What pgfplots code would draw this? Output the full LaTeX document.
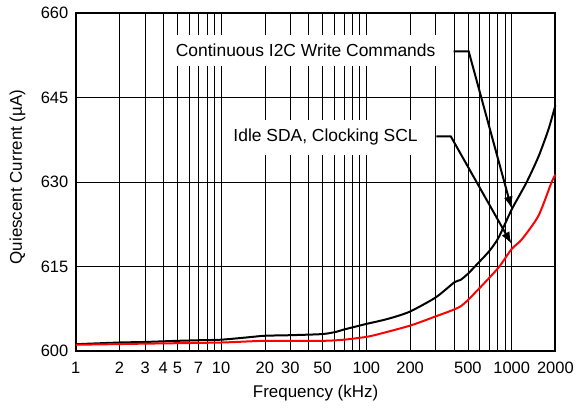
\documentclass[border=0pt]{standalone}
\usepackage{fontspec}
\setmainfont{Liberation Sans}
\usepackage{pgfplots}
\pgfplotsset{compat=1.18}
\usetikzlibrary{arrows.meta}
\begin{document}
\begin{tikzpicture}
\begin{axis}[
  scale only axis,
  width=481pt, height=339pt,
  xmode=log, log basis x=10,
  xmin=1, xmax=2000, ymin=600, ymax=660,
  xtick={1,2,3,4,5,7,10,20,30,50,100,200,500,1000,2000},
  xticklabels={1,2,3,4,5,7,10,20,30,50,100,200,500,1000,2000},
  minor xtick={6,8,9,40,60,70,80,90,300,400,600,700,800,900},
  ytick={600,615,630,645,660},
  grid=both,
  major grid style={black, line width=0.6pt},
  minor grid style={black, line width=0.6pt},
  major tick length=0pt, minor tick length=0pt,
  axis line style={black, line width=2pt},
  /pgf/number format/assume math mode=true,
  xticklabel style={font=\fontsize{16.5}{19}\selectfont, yshift=-8pt},
  yticklabel style={font=\fontsize{16.5}{19}\selectfont, xshift=-4pt},
  xlabel={Frequency (kHz)},
  ylabel={Quiescent Current (µA)},
  xlabel style={font=\fontsize{17}{20}\selectfont, at={(axis description cs:0.5,-0.1254)}, anchor=center},
  ylabel style={font=\fontsize{17}{20}\selectfont, at={(axis description cs:-0.1216,0.5147)}, anchor=center},
  clip=false,
]
\coordinate (SW) at (rel axis cs:0,0);
\coordinate (NE) at (rel axis cs:1,1);
\addplot[black, line width=2pt, smooth, tension=0.4] coordinates {
(1,601.2) (2,601.5) (3,601.6) (5,601.8) (7,601.9) (10,602.0) (15,602.4) (20,602.7)
(30,602.8) (50,603.0) (62,603.4) (70,603.8) (100,604.8) (122,605.3) (150,605.9)
(200,607.0) (300,609.5) (404,612.2) (444,612.6) (500,613.7) (593,615.7) (700,617.7)
(812,620.1) (1000,625.1) (1265,629.9) (1530,634.5) (1791,639.3) (2000,643.6)
};
\addplot[red, line width=2pt, smooth, tension=0.4] coordinates {
(1,601.1) (3,601.3) (10,601.5) (20,601.8) (50,601.8) (70,602.0) (100,602.5)
(122,603.0) (200,604.5) (290,606.0) (444,607.9) (593,611.0) (812,614.8)
(1000,618.1) (1175,619.8) (1530,624.0) (1880,629.9) (2000,631.3)
};
\node[fill=white, inner xsep=9pt, inner ysep=9pt, font=\fontsize{17.5}{20}\selectfont]
  at (axis cs:38.2,653.3) {Continuous I2C Write Commands};
\node[fill=white, inner xsep=6pt, inner ysep=9pt, font=\fontsize{17.5}{20}\selectfont]
  at (axis cs:52.4,637.9) {Idle SDA, Clocking SCL};
\draw[black, line width=2pt, -{Latex[length=12pt,width=9pt]}]
  (axis cs:398,653.2) -- (axis cs:506,653.2) -- (axis cs:998,625.3);
\draw[black, line width=2pt, -{Latex[length=12pt,width=9pt]}]
  (axis cs:303,638.1) -- (axis cs:381,638.1) -- (axis cs:998,619.0);
\end{axis}
\path[use as bounding box] ([shift={(-76pt,-57pt)}]SW) rectangle ([shift={(20pt,13pt)}]NE);
\end{tikzpicture}
\end{document}
